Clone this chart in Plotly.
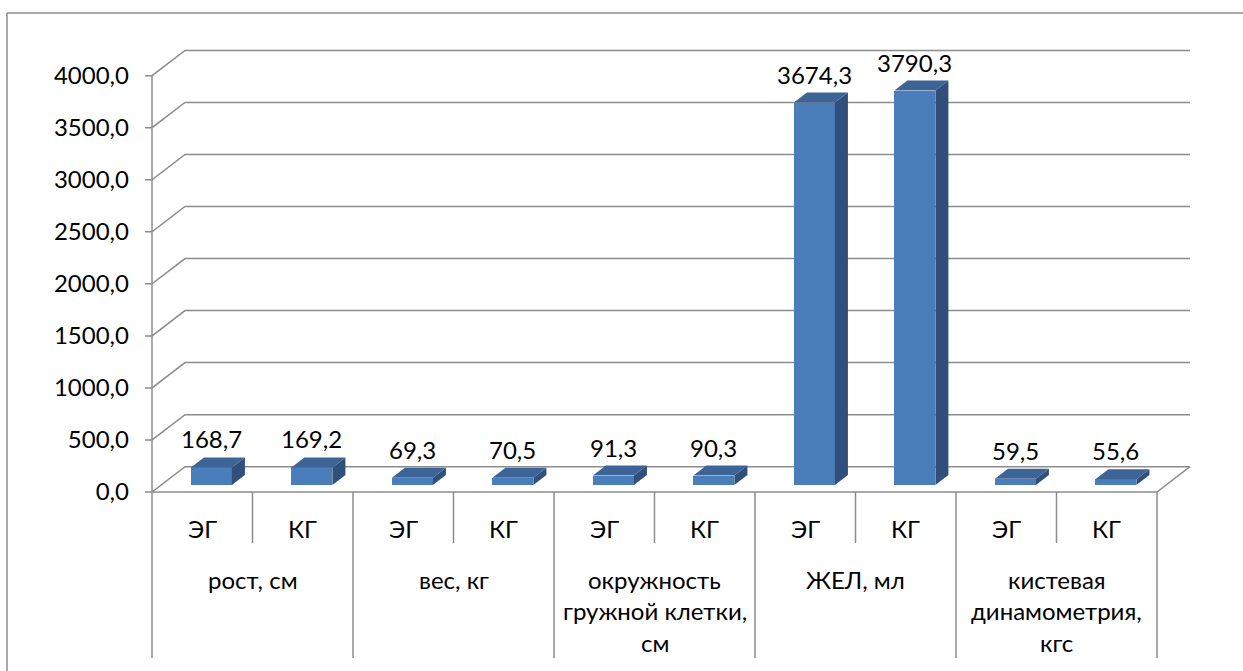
import plotly.graph_objects as go

# ---------------- data ----------------
groups = ["рост, см", "вес, кг", "окружность\nгружной клетки,\nсм", "ЖЕЛ, мл",
          "кистевая\nдинамометрия,\nкгс"]
subgroups = ["ЭГ", "КГ"]
eg_values = [168.7, 69.3, 91.3, 3674.3, 59.5]
kg_values = [169.2, 70.5, 90.3, 3790.3, 55.6]
y_ticks = [0, 500, 1000, 1500, 2000, 2500, 3000, 3500, 4000]

# ---------------- geometry (pixels) ----------------
W, H = 1243, 671
L_M, R_M, T_M, B_M = 130, 40, 20, 0
X0_PX = 152.0      # front-left corner of floor
SLOT_PX = 100.5    # width of one category slot
Y0_PX = 492.0      # front floor line
PXY = 0.10408      # pixels per value unit
DEPTH_X_PX, DEPTH_Y_PX = 33.0, 25.3
D_FRONT, D_BACK = 7 / 25.3, 17 / 25.3
BAR_W = 41 / SLOT_PX

x_range = [(L_M - X0_PX) / SLOT_PX, (W - R_M - X0_PX) / SLOT_PX]
y_range = [(Y0_PX - (H - B_M)) / PXY, (Y0_PX - T_M) / PXY]


def vy(py):
    return (Y0_PX - py) / PXY


DX = DEPTH_X_PX / SLOT_PX
DY = DEPTH_Y_PX / PXY
n_slots = len(groups) * len(subgroups)

GRID = "#8C8C8C"
FRONT = "#4A7EBB"
SIDE = "#30507B"
TOP = "#3C6497"
FONT = "Lato, 'Noto Sans', sans-serif"
FS = 24

values = []
labels_sub = []
for g in range(len(groups)):
    values += [eg_values[g], kg_values[g]]
    labels_sub += subgroups

fig = go.Figure()

# front faces (bars)
base = D_FRONT * DY
xc = [i + 0.5 + D_FRONT * DX for i in range(n_slots)]
fig.add_trace(go.Bar(x=xc, y=values, base=[base] * n_slots, width=BAR_W,
                     marker=dict(color=FRONT, line=dict(width=0)),
                     hoverinfo="skip", showlegend=False))

# side and top faces
ddx = (D_BACK - D_FRONT) * DX
ddy = (D_BACK - D_FRONT) * DY
sx, sy, tx, ty = [], [], [], []
for i, v in enumerate(values):
    xl = xc[i] - BAR_W / 2
    xr = xc[i] + BAR_W / 2
    top = base + v
    sx += [xr, xr + ddx, xr + ddx, xr, xr, None]
    sy += [base, base + ddy, top + ddy, top, base, None]
    tx += [xl, xr, xr + ddx, xl + ddx, xl, None]
    ty += [top, top, top + ddy, top + ddy, top, None]
fig.add_trace(go.Scatter(x=sx, y=sy, mode="lines", fill="toself", fillcolor=SIDE,
                         line=dict(width=0, color=SIDE), hoverinfo="skip",
                         showlegend=False))
fig.add_trace(go.Scatter(x=tx, y=ty, mode="lines", fill="toself", fillcolor=TOP,
                         line=dict(width=0, color=TOP), hoverinfo="skip",
                         showlegend=False))

shapes = []
TICK = 7 / SLOT_PX
for t in y_ticks:
    path = (f"M {-TICK},{t} L 0,{t} L {DX},{t + DY} L {n_slots + DX},{t + DY}")
    shapes.append(dict(type="path", path=path, xref="x", yref="y",
                       line=dict(color=GRID, width=1.5), layer="below"))
shapes.append(dict(type="line", x0=0, y0=0, x1=n_slots, y1=0, xref="x", yref="y",
                   line=dict(color=GRID, width=1.5), layer="below"))
shapes.append(dict(type="line", x0=n_slots, y0=0, x1=n_slots + DX, y1=DY,
                   xref="x", yref="y", line=dict(color=GRID, width=1.5), layer="below"))
shapes.append(dict(type="line", x0=0, y0=0, x1=0, y1=y_ticks[-1], xref="x", yref="y",
                   line=dict(color=GRID, width=1.5), layer="below"))
for k in range(n_slots + 1):
    bottom = vy(658) if k % 2 == 0 else vy(543)
    shapes.append(dict(type="line", x0=k, y0=0, x1=k, y1=bottom, xref="x", yref="y",
                       line=dict(color=GRID, width=1.5), layer="below"))

# outer chart border (top and left edges)
pw = W - L_M - R_M
ph = H - T_M - B_M
bx0 = (7 - L_M) / pw
bx1 = (W - L_M) / pw
by_top = (H - B_M - 13) / ph
by_bot = (H - B_M - H) / ph
shapes.append(dict(type="line", xref="paper", yref="paper", x0=bx0, x1=bx1,
                   y0=by_top, y1=by_top, line=dict(color=GRID, width=1.5)))
shapes.append(dict(type="line", xref="paper", yref="paper", x0=bx0, x1=bx0,
                   y0=by_top, y1=by_bot, line=dict(color=GRID, width=1.5)))

annotations = []
for i, v in enumerate(values):
    annotations.append(dict(x=xc[i], y=base + v + ddy, xref="x", yref="y",
                            text=f"{v:.1f}".replace(".", ","), showarrow=False,
                            yanchor="bottom", yshift=2,
                            font=dict(family=FONT, size=FS, color="#000")))
for i, s in enumerate(labels_sub):
    annotations.append(dict(x=i + 0.5, y=vy(528), xref="x", yref="y", text=s,
                            showarrow=False, font=dict(family=FONT, size=FS, color="#000")))
for g, name in enumerate(groups):
    for j, line in enumerate(name.split("\n")):
        annotations.append(dict(x=2 * g + 1, y=vy(579 + 31.5 * j), xref="x", yref="y",
                                text=line, showarrow=False,
                                font=dict(family=FONT, size=FS, color="#000")))

fig.update_layout(
    width=W, height=H,
    margin=dict(l=L_M, r=R_M, t=T_M, b=B_M),
    paper_bgcolor="white", plot_bgcolor="white",
    separators=", ",
    shapes=shapes, annotations=annotations,
    bargap=0,
    xaxis=dict(range=x_range, visible=False, fixedrange=True),
    yaxis=dict(range=y_range, tickvals=y_ticks, tickformat=".1f", showgrid=False,
               zeroline=False, showline=False, ticks="",
               tickfont=dict(family=FONT, size=FS, color="#000"), fixedrange=True),
    font=dict(family=FONT),
)

fig.write_html("out.html", config={"displayModeBar": False})
